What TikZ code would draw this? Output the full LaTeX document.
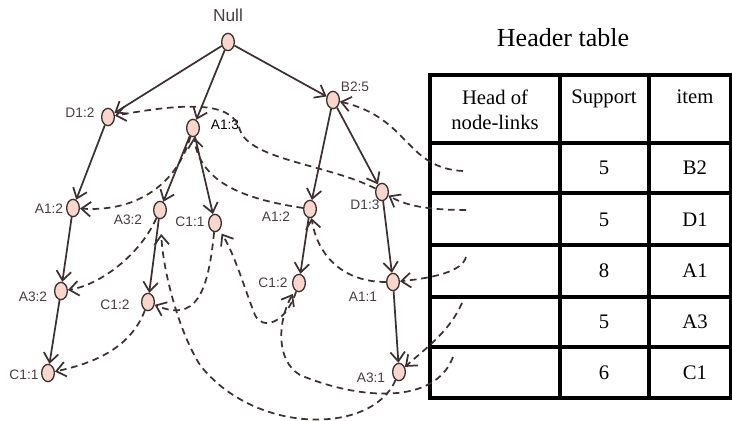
\documentclass[tikz,border=0pt]{standalone}
\usepackage{fontspec}
\setmainfont{Liberation Serif}
\setsansfont{Liberation Sans}
\usetikzlibrary{shapes.geometric,arrows.meta}
\definecolor{nodefill}{HTML}{F9D6CC}
\definecolor{ink}{HTML}{3D3030}
\definecolor{labc}{HTML}{4A3D40}
\begin{document}
\begin{tikzpicture}[x=0.75pt,y=-0.75pt,
  tn/.style={ellipse,draw=ink,fill=nodefill,line width=1pt,minimum width=9.5pt,minimum height=13pt,inner sep=0pt},
  lab/.style={font=\sffamily\fontsize{10.3}{12}\selectfont,text=labc,inner sep=0pt},
  edge/.style={draw=ink,line width=1.3pt,-{Straight Barb[length=7pt,width=11pt]}},
  link/.style={edge,dash pattern=on 5pt off 3.5pt},
  hd/.style={font=\fontsize{15.5}{18.75}\selectfont,inner sep=0pt},
  tb/.style={line width=2.3pt,draw=black}]
\useasboundingbox (0,0) rectangle (732,421);
% tree nodes
\node[tn] (null) at (228,42) {};
\node[tn] (d12) at (108,117) {};
\node[tn] (a13) at (193,128) {};
\node[tn] (b25) at (333,100) {};
\node[tn] (a12L) at (73,208) {};
\node[tn] (a32M) at (160,210) {};
\node[tn] (c11M) at (215,223) {};
\node[tn] (a12R) at (310,209) {};
\node[tn] (d13) at (382,192) {};
\node[tn] (a32L) at (61,291) {};
\node[tn] (c12M) at (148,302) {};
\node[tn] (c12R) at (299,283) {};
\node[tn] (a11) at (393,282) {};
\node[tn] (c11L) at (48,373) {};
\node[tn] (a31) at (399,372) {};
% labels
\node[lab,font=\sffamily\fontsize{13}{15}\selectfont] (lnull) at (228,15) {Null};
\node[lab] (ld12) at (80,113) {D1:2};
\node[lab,text=black] (la13) at (225,125) {A1:3};
\node[lab] (lb25) at (355,87) {B2:5};
\node[lab] (la12L) at (49,209) {A1:2};
\node[lab] (la32M) at (128,220) {A3:2};
\node[lab] (lc11M) at (190,222) {C1:1};
\node[lab] (la12R) at (276,217) {A1:2};
\node[lab] (ld13) at (365,205) {D1:3};
\node[lab] (la32L) at (33,297) {A3:2};
\node[lab] (lc12M) at (115,305) {C1:2};
\node[lab] (lc12R) at (273,283) {C1:2};
\node[lab] (la11) at (363,297) {A1:1};
\node[lab] (lc11L) at (24,375) {C1:1};
\node[lab] (la31) at (371,378) {A3:1};
% tree edges
\draw[edge] (null) -- (d12);
\draw[edge] (null) -- (a13);
\draw[edge] (null) -- (b25);
\draw[edge] (d12) -- (a12L);
\draw[edge] (a12L) -- (a32L);
\draw[edge] (a32L) -- (c11L);
\draw[edge] (a13) -- (a32M);
\draw[edge] (a13) -- (c11M);
\draw[edge] (a32M) -- (c12M);
\draw[edge] (b25) -- (a12R);
\draw[edge] (b25) -- (d13);
\draw[edge] (a12R) -- (c12R);
\draw[edge] (d13) -- (a11);
\draw[edge] (a11) -- (a31);
% header table
\node[font=\fontsize{19.5}{22}\selectfont,inner sep=0pt] (ttl) at (563,38) {Header table};
\draw[tb] (430,75) rectangle (731,398);
\draw[tb] (560,75) -- (560,398);
\draw[tb] (649,75) -- (649,398);
\foreach \yy in {143,193,245,297,347} \draw[tb] (430,\yy) -- (731,\yy);
\node[hd,align=center] (h1) at (495,110) {Head of\\node-links};
\node[hd,anchor=base] (h2) at (604,103) {Support};
\node[hd,anchor=base] (h3) at (695,103) {item};
\node[hd] (s1) at (604,168) {5}; \node[hd] (i1) at (695,168) {B2};
\node[hd] (s2) at (604,220) {5}; \node[hd] (i2) at (695,220) {D1};
\node[hd] (s3) at (604,271) {8}; \node[hd] (i3) at (695,271) {A1};
\node[hd] (s4) at (604,322) {5}; \node[hd] (i4) at (695,322) {A3};
\node[hd] (s5) at (604,373) {6}; \node[hd] (i5) at (695,373) {C1};
% header link starts
\coordinate (hB2) at (463,171);
\coordinate (hD1) at (466,210);
\coordinate (hA1) at (466,257);
\coordinate (hA3) at (462,303);
\coordinate (hC1) at (453,357);
% node-links
\draw[link] (hB2) .. controls (405,168) and (410,118) .. (b25);
\draw[link] (hD1) .. controls (425,210) and (405,205) .. (d13);
\draw[link] (d13) .. controls (330,165) and (250,160) .. (240,130) .. controls (233,105) and (200,100) .. (d12);
\draw[link] (hA1) .. controls (462,272) and (432,278) .. (a11);
\draw[link] (a11) .. controls (345,282) and (318,258) .. (a12R);
\draw[link] (a12R) .. controls (250,200) and (200,185) .. (a13);
\draw[link] (a13) .. controls (175,190) and (130,212) .. (a12L);
\draw[link] (hA3) .. controls (450,330) and (430,345) .. (a31);
\draw[link,shorten >=11pt] (a31) .. controls (372,435) and (255,435) .. (200,365) .. controls (178,330) and (163,270) .. (a32M);
\draw[link] (a32M) .. controls (140,255) and (100,285) .. (a32L);
\draw[link,shorten >=3pt] (hC1) .. controls (435,405) and (360,400) .. (300,375) .. controls (275,360) and (278,320) .. (c12R);
\draw[link,shorten >=3pt] (c12R) .. controls (285,325) and (262,330) .. (255,315) .. controls (245,290) and (235,255) .. (c11M);
\draw[link] (c11M) .. controls (208,295) and (195,322) .. (c12M);
\draw[link] (c12M) .. controls (130,350) and (90,364) .. (c11L);
\end{tikzpicture}
\end{document}
